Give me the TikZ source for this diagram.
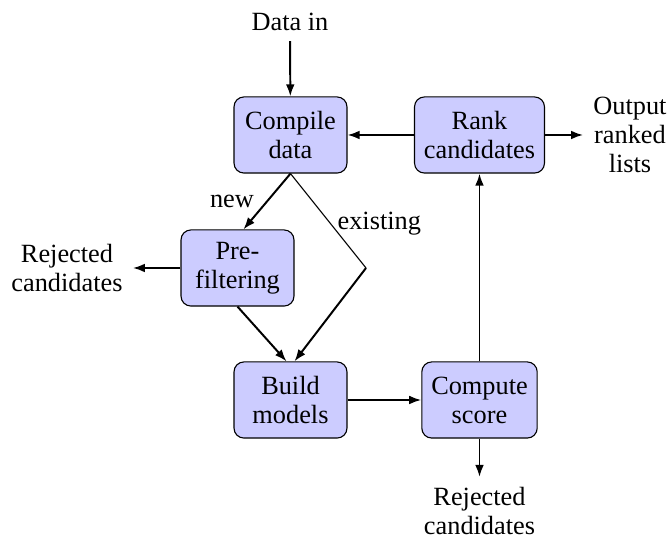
\documentclass[tikz,border=0pt]{standalone}
\usepackage{fontspec}
\setmainfont{Liberation Serif}
\usetikzlibrary{arrows.meta}
\begin{document}
\begin{tikzpicture}[x=0.456pt,y=-0.456pt,
  box/.style={draw, line width=0.5pt, fill=blue!20, rounded corners=4.5pt,
    minimum width=51.5pt, minimum height=34.7pt, inner xsep=4.3pt,
    align=center, font=\fontsize{12}{13.2}\selectfont},
  lbl/.style={align=center, font=\fontsize{12}{13.2}\selectfont, inner sep=4.5pt},
  arr/.style={-{Latex[length=5.5pt,width=4pt]}, line width=0.9pt},
  thinline/.style={line width=0.5pt}]
\useasboundingbox (0,0) rectangle (671,537);
\node[box] (compile) at (290.5,135) {Compile\\data};
\node[box] (rank) at (479.5,135) {Rank\\candidates};
\node[box] (pre) at (237.5,268) {Pre-\\filtering};
\node[box] (build) at (290.5,400) {Build\\models};
\node[box] (compute) at (479.5,400) {Compute\\score};
\node[lbl] (datain) at (290,22) {Data in};
\node[lbl] (output) at (630,135) {Output\\ranked\\lists};
\node[lbl] (rejleft) at (67,268) {Rejected\\candidates};
\node[lbl] (rejbot) at (479.5,511) {Rejected\\candidates};
\coordinate (kink) at (366,268);
\draw[arr] (datain) -- (compile);
\draw[arr] (rank) -- (compile);
\draw[arr] (rank) -- (output);
\draw[arr] (pre) -- (rejleft);
\draw[arr] (compute) -- (rejbot);
\draw[arr] (compute) -- (rank);
\draw[arr] (build) -- (compute);
\draw[arr] (compile.south) -- node[lbl, pos=0.5, left, inner sep=5.5pt] {new} ([xshift=2.7pt]pre.north);
\draw[thinline] (compile.south) -- node[lbl, pos=0.53, right, inner sep=3pt] {existing} (kink);
\draw[arr] (kink) -- ([xshift=1.8pt]build.north);
\draw[arr] (pre.south) -- ([xshift=-1.8pt]build.north);
\end{tikzpicture}
\end{document}
